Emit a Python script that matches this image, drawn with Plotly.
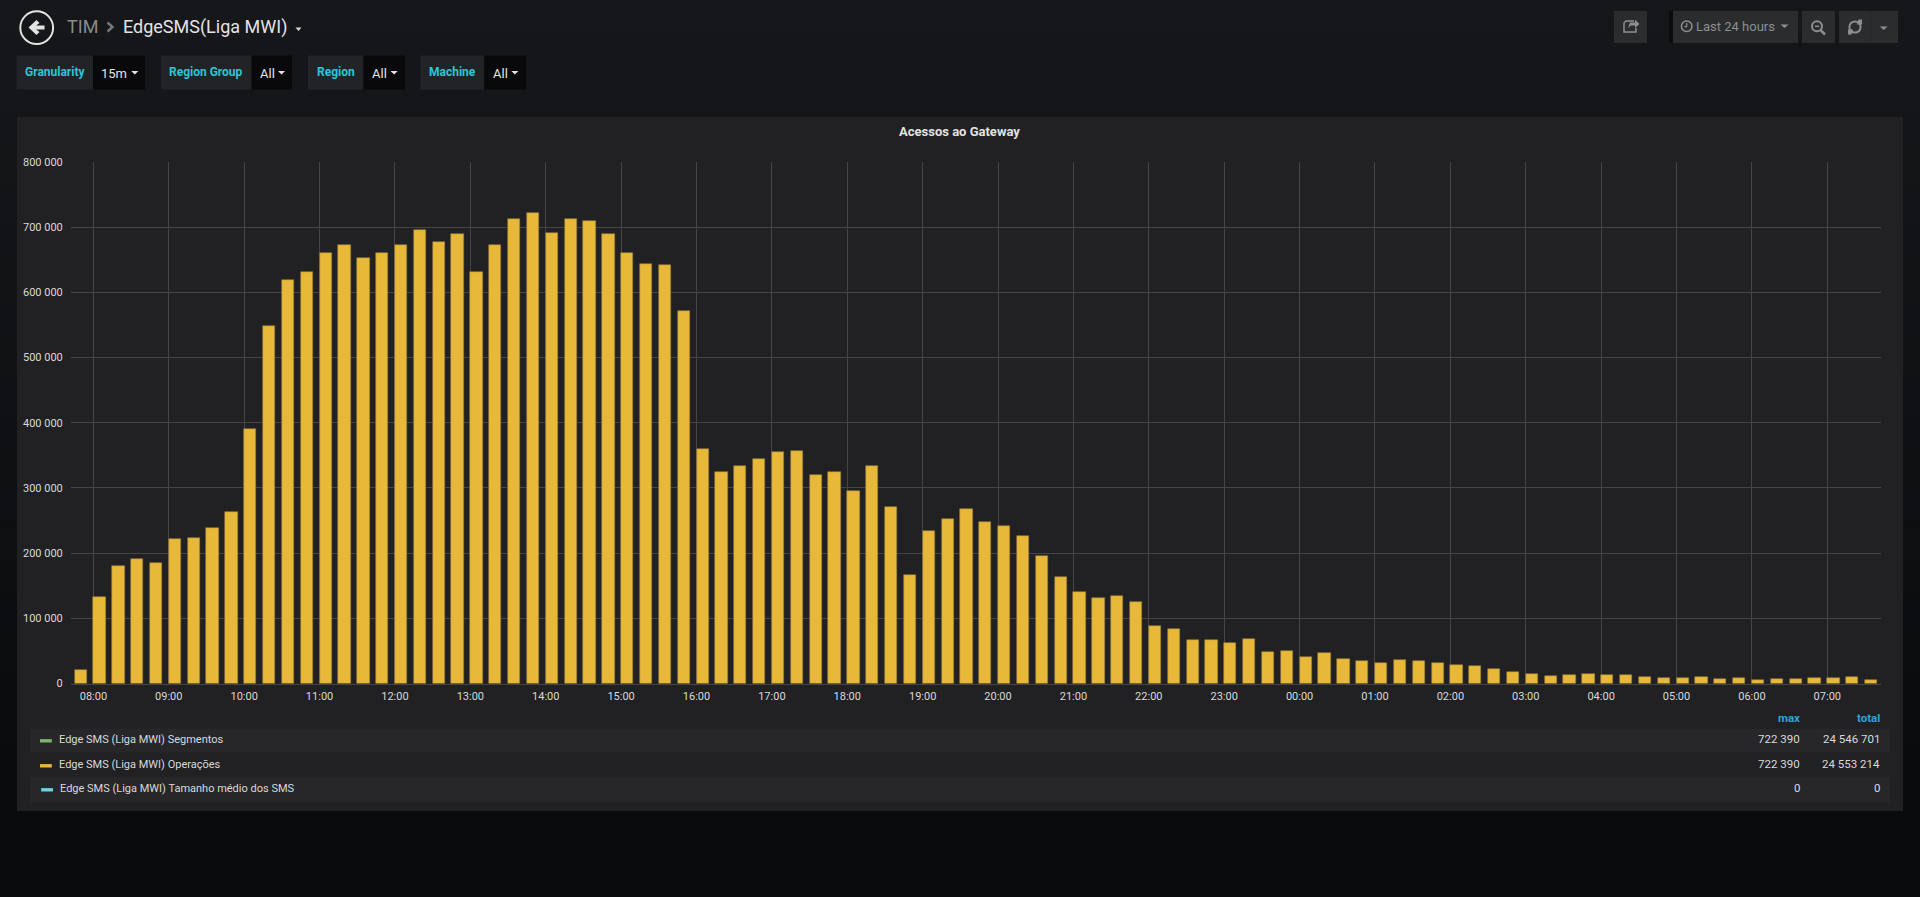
import pandas as pd
import plotly.graph_objects as go

W, H = 1920, 897

# ---------- data ----------
operacoes = [
    20000, 133000, 181000, 191000, 185000, 221000, 223000, 238000, 263000,
    391000, 549000, 619000, 631000, 661000, 672000, 652000, 660000, 672000, 695000,
    678000, 690000, 632000, 672000, 713000, 722390, 691000, 713000, 709000, 689000,
    661000, 643000, 642000, 572000, 360000, 324000, 334000, 345000, 355000, 357000,
    320000, 324000, 296000, 334000, 271000, 167000, 234000, 253000, 268000, 248000,
    241000, 227000, 196000, 163000, 140000, 131000, 135000, 125000, 88000, 84000,
    66000, 67000, 62000, 68000, 49000, 50000, 40000, 47000, 37000, 34000,
    31000, 36000, 35000, 32000, 29000, 27000, 21500, 16900, 14300, 11200,
    12800, 14300, 13800, 12300, 9700, 9200, 7700, 10700, 6600, 7700,
    5100, 7200, 6600, 8200, 9200, 9700, 6100,
]
bar_times = pd.date_range("2019-01-01 07:45", periods=len(operacoes), freq="15min")

legend_names = ["Edge SMS (Liga MWI) Segmentos", "Edge SMS (Liga MWI) Operações",
                "Edge SMS (Liga MWI) Tamanho médio dos SMS"]
legend_colors = ["#7EB26D", "#EAB839", "#6ED0E0"]
legend_max = ["722 390", "722 390", "0"]
legend_total = ["24 546 701", "24 553 214", "0"]

variables = [("Granularity", "15m"), ("Region Group", "All"), ("Region", "All"), ("Machine", "All")]

# ---------- helpers ----------
TEAL = "#2CC5D8"
TXT = "#D8D9DA"
FONT = "Roboto"
GRID = "#454548"


def X(px):
    return px / W


def Y(py):
    return 1 - py / H


shapes, annotations = [], []


def rect(x0, y0, x1, y1, fill, line=None, layer="below"):
    shapes.append(dict(type="rect", xref="paper", yref="paper", x0=X(x0), x1=X(x1), y0=Y(y1), y1=Y(y0),
                       fillcolor=fill, line=dict(width=1 if line else 0, color=line or "rgba(0,0,0,0)"), layer=layer))


def circle(cx, cy, r, line, width=1.5, fill="rgba(0,0,0,0)"):
    shapes.append(dict(type="circle", xref="paper", yref="paper", x0=X(cx - r), x1=X(cx + r), y0=Y(cy + r), y1=Y(cy - r),
                       fillcolor=fill, line=dict(width=width, color=line), layer="above"))


def poly(points, fill=None, line=None, width=1.5, close=True):
    p = "M " + " L ".join(f"{X(a):.6f},{Y(b):.6f}" for a, b in points) + (" Z" if close else "")
    shapes.append(dict(type="path", path=p, xref="paper", yref="paper",
                       fillcolor=fill or "rgba(0,0,0,0)",
                       line=dict(width=width if line else 0, color=line or "rgba(0,0,0,0)"), layer="above"))


def text(x, y, s, size=12, color=TXT, anchor="left", bold=False):
    annotations.append(dict(xref="paper", yref="paper", x=X(x), y=Y(y), text=f"<b>{s}</b>" if bold else s,
                            showarrow=False, xanchor=anchor, yanchor="middle",
                            font=dict(family=FONT, size=size, color=color), borderpad=0, borderwidth=0))


def caret(cx, cy, half=3.2, color="#D8D9DA"):
    poly([(cx - half, cy - 1.6), (cx + half, cy - 1.6), (cx, cy + 2)], fill=color)


# ---------- page background ----------
bands = 24
top_c, bot_c = (0x16, 0x17, 0x1A), (0x0A, 0x0B, 0x0D)
for i in range(bands):
    t = min(1, i / (bands - 4))
    c = tuple(round(a + (b - a) * t) for a, b in zip(top_c, bot_c))
    rect(0, H * i / bands, W, H * (i + 1) / bands + 1, "rgb(%d,%d,%d)" % c)

# panel
rect(17, 117, 1903, 811, "#212124")

# ---------- header ----------
circle(36.7, 27.7, 16.4, "#E3E3E3", 2)
poly([(28.5, 27.5), (36.5, 20), (39.5, 23), (36.2, 25.6), (44.5, 25.6), (44.5, 29.6), (36.2, 29.6), (39.5, 32), (36.5, 35)],
     fill="#E3E3E3")
text(67, 27, "TIM", 18, "#8A8A8A")
poly([(107.5, 22.5), (112.5, 27), (107.5, 31.5)], line="#777777", width=2.5, close=False)
text(123, 27, "EdgeSMS(Liga MWI)", 18, "#E3E3E3")
caret(298.5, 29, 3)

BTN = "#2B2C2E"
ICON = "#8E8E8E"
rect(1614, 11, 1647, 43, BTN)
poly([(1634, 21), (1626, 21), (1624, 23), (1624, 32), (1636, 32), (1636, 28)], line=ICON, width=1.5, close=False)
poly([(1628, 28), (1630, 22.5), (1635, 22.5), (1635, 19.5), (1639.5, 24), (1635, 28), (1635, 25.5), (1631, 25.5)], fill=ICON)
rect(1669, 11, 1673, 43, "#0B0C0E")
rect(1673, 11, 1798, 43, BTN)
circle(1686.7, 26.3, 5.3, ICON, 1.5)
poly([(1686.7, 23), (1686.7, 26.6), (1684.5, 26.6)], line=ICON, width=1.2, close=False)
text(1696, 26.5, "Last 24 hours", 13, "#8E8E8E")
caret(1784.5, 26, 4, ICON)
rect(1802, 11, 1835, 43, BTN)
circle(1817, 26.3, 5, ICON, 2)
poly([(1814.8, 26.3), (1819.2, 26.3)], line=ICON, width=1.5, close=False)
poly([(1821, 30.5), (1825, 34.5)], line=ICON, width=2.5, close=False)
rect(1839, 11, 1898, 43, BTN)
rect(1870, 11, 1871, 43, "#252628")
circle(1855, 27, 5.6, ICON, 2)
poly([(1858.5, 19.5), (1862, 19.5), (1862, 24.5), (1857, 24.5)], fill=ICON)
poly([(1851.5, 34.5), (1848, 34.5), (1848, 29.5), (1853, 29.5)], fill=ICON)
caret(1883.7, 28, 4, ICON)

# ---------- variable bar ----------
var_boxes = [(16.5, 93, 145.3), (161, 251.7, 292), (308, 363.5, 405), (420.6, 484.3, 526.3)]
val_x = [101.2, 259.5, 371.7, 492.9]
car_x = [134.8, 281.5, 394.1, 514.9]
for (lab, val), (a, b, c), vx, cx in zip(variables, var_boxes, val_x, car_x):
    rect(a, 55.5, b, 89.5, "#212327")
    rect(b, 55.5, c, 89.5, "#09090B")
    text((a + b) / 2, 72.5, lab, 12, TEAL, "center", bold=True)
    text(vx, 73, val, 13, "#E3E3E3")
    caret(cx, 72.5, 3.6, "#E3E3E3")

# ---------- legend ----------
row_bg = [(728.5, 752.5), None, (776.5, 802.5)]
row_y = [739.3, 764.3, 788.3]
swatch_x = [40, 40, 41.2]
text_x = [58.8, 58.8, 60]
text(1799.7, 718, "max", 11.5, "#33A2D6", "right", bold=True)
text(1880, 718, "total", 11.5, "#33A2D6", "right", bold=True)
for i, name in enumerate(legend_names):
    if row_bg[i]:
        rect(30, row_bg[i][0], 1890, row_bg[i][1], "#27272A")
    sy = row_y[i] + 1.5
    rect(swatch_x[i], sy - 1.7, swatch_x[i] + 11.8, sy + 1.7, legend_colors[i], layer="above")
    text(text_x[i], row_y[i], name, 11)
    text(1799.7, row_y[i], legend_max[i], 11.5, TXT, "right")
    text(1880, row_y[i], legend_total[i], 11.5, TXT, "right")

text(959.4, 131, "Acessos ao Gateway", 13, "#E3E3E3", "center", bold=True)

# ---------- chart ----------
BAR_MS = 585000
fig = go.Figure(go.Bar(
    x=bar_times, y=operacoes, width=BAR_MS, offset=0, name=legend_names[1],
    marker=dict(color="#E8B838", line=dict(color="#8F7A3A", width=0.6)),
))

hour = 3600000
t8 = pd.Timestamp("2019-01-01 08:00")
PX_HR = (1827.3 - 93.4) / 23
x_left = t8 + pd.Timedelta(hours=-(93.4 - 71) / PX_HR)
x_right = t8 + pd.Timedelta(hours=23 + (1881 - 1827.3) / PX_HR)

fig.update_layout(
    width=W, height=H, autosize=False, margin=dict(l=0, r=0, t=0, b=0, pad=0),
    paper_bgcolor="#0F1012", plot_bgcolor="rgba(0,0,0,0)", showlegend=False,
    separators=". ", bargap=0, shapes=shapes, annotations=annotations,
    font=dict(family=FONT, color=TXT, size=11),
    xaxis=dict(domain=[X(71), X(1881)], type="date", range=[x_left, x_right], tick0=t8, dtick=hour, automargin=False,
               tickformat="%H:%M", showgrid=True, gridcolor=GRID, gridwidth=1, zeroline=False,
               showline=True, linecolor=GRID, linewidth=1,
               ticks="outside", ticklen=2, tickcolor="rgba(0,0,0,0)", tickfont=dict(size=11, color=TXT)),
    yaxis=dict(domain=[Y(683.5), Y(162)], range=[0, 800000], dtick=100000, tickformat=",d", automargin=False,
               showgrid=True, gridcolor=GRID, gridwidth=1, zeroline=False, showline=False,
               ticks="outside", ticklen=5, tickcolor="rgba(0,0,0,0)", tickfont=dict(size=11, color=TXT)),
)

fig.write_html("out.html", config=dict(displayModeBar=False),
               post_script="document.body.style.margin='0';document.body.style.overflow='hidden';")
